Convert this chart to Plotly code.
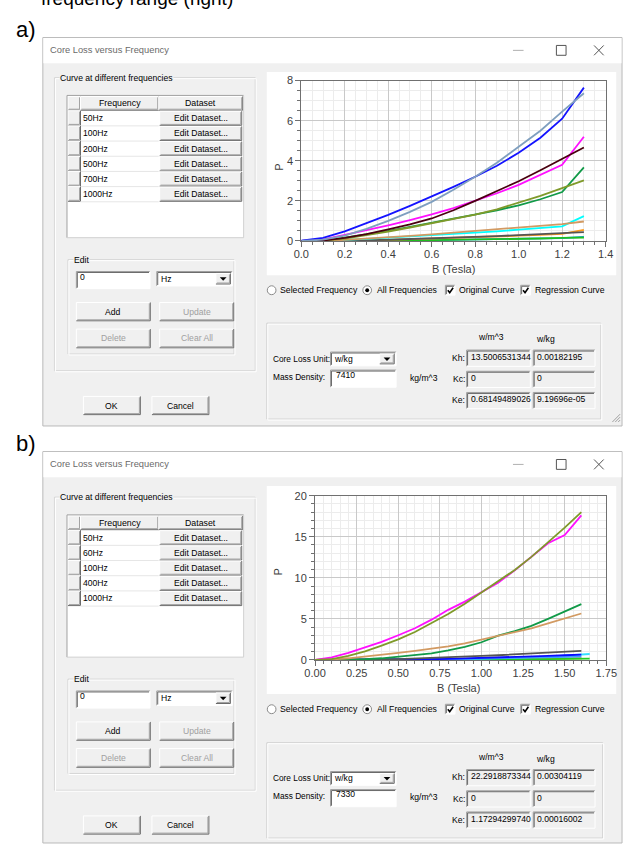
import plotly.graph_objects as go

W, H = 634, 848

# ------------------------------------------------------------------ data
# chart a) : B (Tesla) sample points and P curves (original + regression)
B_A = [0.0, 0.1, 0.2, 0.3, 0.4, 0.5, 0.6, 0.7, 0.8, 0.9, 1.0, 1.1, 1.2, 1.3]
A_1000_ORIG = [0.02, 0.15, 0.48, 0.88, 1.30, 1.75, 2.22, 2.70, 3.20, 3.75, 4.40, 5.15, 6.10, 7.65]
A_1000_REG = [0.0, 0.06, 0.27, 0.60, 1.00, 1.45, 1.95, 2.55, 3.20, 3.90, 4.70, 5.50, 6.45, 7.37]
A_700_ORIG = [0.0, 0.08, 0.30, 0.53, 0.78, 1.04, 1.32, 1.64, 2.00, 2.38, 2.80, 3.28, 3.80, 5.20]
A_700_REG = [0.0, 0.02, 0.15, 0.34, 0.58, 0.83, 1.12, 1.53, 2.00, 2.47, 2.98, 3.53, 4.10, 4.66]
A_500_ORIG = [0.0, 0.03, 0.16, 0.32, 0.50, 0.70, 0.90, 1.10, 1.30, 1.53, 1.78, 2.08, 2.44, 3.67]
A_500_REG = [0.0, 0.02, 0.12, 0.28, 0.47, 0.67, 0.88, 1.09, 1.31, 1.58, 1.90, 2.25, 2.64, 3.02]
A_200_ORIG = [0.0, 0.01, 0.05, 0.10, 0.16, 0.22, 0.29, 0.35, 0.41, 0.48, 0.56, 0.64, 0.73, 1.24]
A_200_REG = [0.0, 0.0, 0.05, 0.11, 0.18, 0.25, 0.33, 0.41, 0.49, 0.57, 0.65, 0.74, 0.84, 0.97]
A_100_ORIG = [0.0, 0.0, 0.01, 0.03, 0.05, 0.08, 0.11, 0.14, 0.18, 0.22, 0.26, 0.30, 0.35, 0.55]
A_100_REG = [0.0, 0.0, 0.01, 0.03, 0.06, 0.09, 0.12, 0.16, 0.20, 0.24, 0.29, 0.34, 0.39, 0.44]
A_50_ORIG = [0.0, 0.0, 0.0, 0.01, 0.02, 0.03, 0.04, 0.06, 0.07, 0.09, 0.10, 0.12, 0.14, 0.20]
A_50_REG = [0.0, 0.0, 0.0, 0.01, 0.02, 0.03, 0.04, 0.05, 0.07, 0.08, 0.10, 0.12, 0.15, 0.17]

# chart b)
B_B = [0.0, 0.1, 0.2, 0.3, 0.4, 0.5, 0.6, 0.7, 0.8, 0.9, 1.0, 1.1, 1.2, 1.3, 1.4, 1.5, 1.6]
B_B_EXT = [0.0, 0.1, 0.2, 0.3, 0.4, 0.5, 0.6, 0.7, 0.8, 0.9, 1.0, 1.1, 1.2, 1.3, 1.4, 1.5, 1.6, 1.65]
B_1000_ORIG = [0.0, 0.30, 0.85, 1.50, 2.20, 3.00, 3.85, 4.90, 6.10, 7.10, 8.20, 9.40, 10.90, 12.50, 14.20, 15.20, 17.60]
B_1000_REG = [0.0, 0.10, 0.50, 1.05, 1.75, 2.50, 3.40, 4.50, 5.60, 6.85, 8.20, 9.50, 10.95, 12.55, 14.30, 16.10, 18.00]
B_400_ORIG = [0.0, 0.0, 0.02, 0.08, 0.20, 0.38, 0.58, 0.80, 1.15, 1.60, 2.15, 2.95, 3.50, 4.15, 5.00, 5.90, 6.80]
B_400_REG = [0.0, 0.05, 0.20, 0.40, 0.62, 0.85, 1.10, 1.35, 1.65, 2.00, 2.45, 2.95, 3.35, 3.85, 4.45, 5.05, 5.65]
B_100_ORIG = [0.0, 0.0, 0.0, 0.01, 0.02, 0.03, 0.05, 0.08, 0.12, 0.17, 0.22, 0.28, 0.35, 0.42, 0.50, 0.57, 0.65]
B_100_REG = [0.0, 0.0, 0.0, 0.02, 0.06, 0.10, 0.16, 0.23, 0.30, 0.39, 0.48, 0.57, 0.66, 0.77, 0.88, 0.99, 1.10]
B_60_ORIG = [0.0, 0.0, 0.0, 0.0, 0.01, 0.02, 0.03, 0.05, 0.08, 0.11, 0.15, 0.20, 0.26, 0.33, 0.41, 0.50, 0.60, 0.72]
B_60_REG = [0.0, 0.0, 0.0, 0.01, 0.02, 0.03, 0.05, 0.07, 0.09, 0.12, 0.15, 0.19, 0.23, 0.27, 0.31, 0.36, 0.41]
B_50_ORIG = [0.0, 0.0, 0.0, 0.0, 0.01, 0.01, 0.02, 0.03, 0.04, 0.05, 0.07, 0.08, 0.10, 0.12, 0.14, 0.17, 0.20]
B_50_REG = [0.0, 0.0, 0.0, 0.0, 0.0, 0.01, 0.01, 0.02, 0.02, 0.03, 0.04, 0.05, 0.06, 0.08, 0.10, 0.12, 0.14, 0.16]

FREQS_A = ["50Hz", "100Hz", "200Hz", "500Hz", "700Hz", "1000Hz"]
FREQS_B = ["50Hz", "60Hz", "100Hz", "400Hz", "1000Hz"]
KH_A = ["13.5006531344", "0.00182195"]
KC_A = ["0", "0"]
KE_A = ["0.68149489026", "9.19696e-05"]
DENSITY_A = "7410"
KH_B = ["22.2918873344", "0.00304119"]
KC_B = ["0", "0"]
KE_B = ["1.17294299740", "0.00016002"]
DENSITY_B = "7330"

X_TICKS_A = dict(range=[0, 1.4], dtick=0.2, minor=0.05, fmt=".1f")
Y_TICKS_A = dict(range=[0, 8], dtick=2, minor=0.5)
X_TICKS_B = dict(range=[0, 1.75], dtick=0.25, minor=0.05, fmt=".2f")
Y_TICKS_B = dict(range=[0, 20], dtick=5, minor=1)

# ------------------------------------------------------------------ helpers
UI = "Liberation Sans, Arial, sans-serif"
FACE = "#f0f0f0"
shapes, annos = [], []


def px(x):
    return x / W


def py(y):
    return 1 - y / H


def rect(x0, y0, x1, y1, fill=None, line=None, lw=1):
    shapes.append(dict(type="rect", xref="paper", yref="paper", layer="below",
                       x0=px(x0), x1=px(x1), y0=py(y0), y1=py(y1),
                       fillcolor=fill if fill else "rgba(0,0,0,0)",
                       line=dict(color=line if line else "rgba(0,0,0,0)", width=lw if line else 0)))


def seg(x0, y0, x1, y1, color, lw=1, layer="below"):
    shapes.append(dict(type="line", xref="paper", yref="paper", layer=layer,
                       x0=px(x0), x1=px(x1), y0=py(y0), y1=py(y1),
                       line=dict(color=color, width=lw)))


def text(x, y, s, size=8.6, color="#000000", xa="left", bg=None, family=UI, ya="middle"):
    d = dict(x=px(x), y=py(y), xref="paper", yref="paper", text=s, showarrow=False,
             xanchor=xa, yanchor=ya, font=dict(family=family, size=size, color=color),
             borderpad=0)
    if bg:
        d["bgcolor"] = bg
    annos.append(d)


def raised(x0, y0, x1, y1, label=None, color="#000000", size=8.6):
    rect(x0, y0, x1, y1, fill=FACE)
    seg(x0, y0, x1, y0, "#ffffff")
    seg(x0, y0, x0, y1, "#ffffff")
    seg(x0, y1, x1, y1, "#6a6a6a")
    seg(x1, y0, x1, y1, "#6a6a6a")
    seg(x0 + 1, y1 - 1, x1 - 1, y1 - 1, "#a0a0a0")
    seg(x1 - 1, y0 + 1, x1 - 1, y1 - 1, "#a0a0a0")
    if label:
        text((x0 + x1) / 2, (y0 + y1) / 2, label, size=size, color=color, xa="center")


def sunken(x0, y0, x1, y1, fill="#ffffff"):
    rect(x0, y0, x1, y1, fill=fill)
    seg(x0, y0, x1, y0, "#a0a0a0")
    seg(x0, y0, x0, y1, "#a0a0a0")
    seg(x0 + 1, y0 + 1, x1 - 1, y0 + 1, "#696969")
    seg(x0 + 1, y0 + 1, x0 + 1, y1 - 1, "#696969")
    seg(x0, y1, x1, y1, "#ffffff")
    seg(x1, y0, x1, y1, "#ffffff")


def combo(x0, y0, x1, y1, value):
    sunken(x0, y0, x1, y1)
    text(x0 + 3, (y0 + y1) / 2, value)
    raised(x1 - 17, y0 + 2, x1 - 2, y1 - 2)
    cx, cy = x1 - 9.5, (y0 + y1) / 2
    shapes.append(dict(type="path", xref="paper", yref="paper", layer="below",
                       path=f"M {px(cx-3.5)},{py(cy-1.5)} L {px(cx+3.5)},{py(cy-1.5)} L {px(cx)},{py(cy+2)} Z",
                       fillcolor="#000000", line=dict(width=0)))


def groupbox(x0, y0, x1, y1, label):
    rect(x0, y0, x1, y1, line="#d5d5d5")
    rect(x0 + 1, y0 + 1, x1 + 1, y1 + 1, line="#ffffff")
    text(x0 + 5, y0, label, bg=FACE)


def radio(cx, cy, filled):
    shapes.append(dict(type="circle", xref="paper", yref="paper", layer="below",
                       x0=px(cx - 4.5), x1=px(cx + 4.5), y0=py(cy + 4.5), y1=py(cy - 4.5),
                       fillcolor="#ffffff", line=dict(color="#8a8a8a", width=1)))
    if filled:
        shapes.append(dict(type="circle", xref="paper", yref="paper", layer="below",
                           x0=px(cx - 2), x1=px(cx + 2), y0=py(cy + 2), y1=py(cy - 2),
                           fillcolor="#000000", line=dict(width=0)))


def checkbox(x0, cy):
    sunken(x0, cy - 5, x0 + 10, cy + 5)
    shapes.append(dict(type="path", xref="paper", yref="paper", layer="below",
                       path=f"M {px(x0+2.5)},{py(cy)} L {px(x0+4.5)},{py(cy+2.5)} L {px(x0+8)},{py(cy-2.5)}",
                       line=dict(color="#000000", width=1.6)))


def window(top, bottom, title_y):
    rect(33, top, 633, bottom, fill=FACE, line="#b9b9b9")
    rect(33.5, top + 0.5, 632.5, top + 26, fill="#ffffff")
    text(39, title_y, "Core Loss versus Frequency", size=9.3, color="#6a6a6a")
    seg(520, title_y, 531, title_y, "#b0b0b0")
    rect(565, title_y - 5, 575, title_y + 5, line="#555555")
    seg(604, title_y - 5, 614, title_y + 5, "#555555")
    seg(604, title_y + 5, 614, title_y - 5, "#555555")


def dialog(oy, freqs, coeffs, density, chart_box, lower_box, lower_oy):
    # left group
    groupbox(45, 72.7 + oy, 253, 370 + oy, "Curve at different frequencies")
    tx0, tx1, ty0, ty1 = 58, 241, 90.7 + oy, 235 + oy
    rect(tx0, ty0, tx1, ty1, fill="#ffffff")
    # header
    raised(tx0 + 1, ty0 + 1, 72, ty0 + 15)
    raised(72, ty0 + 1, 153, ty0 + 15, "Frequency", size=8.8)
    raised(153, ty0 + 1, tx1 - 1, ty0 + 15, "Dataset", size=8.8)
    rh = 15.4
    for i, f in enumerate(freqs):
        r0 = ty0 + 15.5 + i * rh
        r1 = r0 + rh
        raised(tx0 + 1, r0, 72, r1 - 0.5)
        seg(72, r1, 153, r1, "#e6e6e6")
        text(73.5, (r0 + r1) / 2, f)
        raised(154, r0 + 0.5, 239, r1 - 0.5, "Edit Dataset...")
    seg(tx0, ty0, tx1, ty0, "#a0a0a0")
    seg(tx0, ty0, tx0, ty1, "#a0a0a0")
    seg(tx0, ty1, tx1, ty1, "#d0d0d0")
    seg(tx1, ty0, tx1, ty1, "#d0d0d0")
    # edit group
    groupbox(59, 257.3 + oy, 231, 353 + oy, "Edit")
    sunken(67.7, 269.3 + oy, 144, 286.7 + oy)
    text(70, 274.5 + oy, "0")
    combo(151, 269.3 + oy, 229.3, 284 + oy, "Hz")
    raised(67.7, 300.7 + oy, 144.3, 319.3 + oy, "Add")
    raised(154, 300.7 + oy, 230.7, 319.3 + oy, "Update", color="#a0a0a0")
    raised(67.7, 327.7 + oy, 144.3, 346.7 + oy, "Delete", color="#a0a0a0")
    raised(154, 327.7 + oy, 230.7, 346.7 + oy, "Clear All", color="#a0a0a0")
    raised(75, 396 + oy, 134, 414.5 + oy, "OK")
    raised(146, 396 + oy, 205, 414.5 + oy, "Cancel")
    # chart panel
    cx0, cy0, cx1, cy1 = chart_box
    rect(cx0, cy0, cx1, cy1, fill="#ffffff")
    # radio row
    ry = cy1 + 15.3
    radio(270, ry, False)
    text(278, ry, "Selected Frequency", size=8.7)
    radio(369, ry, True)
    text(378, ry, "All Frequencies", size=8.7)
    checkbox(450, ry)
    text(463, ry, "Original Curve", size=8.7)
    checkbox(528, ry)
    text(542, ry, "Regression Curve", size=8.7)
    # lower box
    lx0, ly0, lx1, ly1 = lower_box
    rect(lx0, ly0, lx1, ly1, line="#d0d0d0")
    rect(lx0 + 1, ly0 + 1, lx1 + 1, ly1 + 1, line="#ffffff")
    o = lower_oy
    text(270, 358 + o, "Core Loss Unit:", size=8.3)
    combo(331, 351 + o, 399, 365 + o, "w/kg")
    text(270, 376 + o, "Mass Density:", size=8.3)
    sunken(331, 369.3 + o, 399, 386.7 + o)
    text(336, 374 + o, density)
    text(412, 377 + o, "kg/m^3")
    text(497, 336 + o, "w/m^3", xa="center")
    text(554, 338 + o, "w/kg", xa="center")
    rows = [("Kh:", coeffs[0], 357), ("Kc:", coeffs[1], 378.5), ("Ke:", coeffs[2], 400)]
    for lab, vals, yy in rows:
        text(471, yy + o, lab, xa="right")
        sunken(472, yy - 8 + o, 538, yy + 8.5 + o, fill=FACE)
        sunken(541, yy - 8 + o, 605, yy + 8.5 + o, fill=FACE)
        text(475, yy - 1 + o, vals[0])
        text(544, yy - 1 + o, vals[1])


# ------------------------------------------------------------------ UI drawing
text(30, 4, "frequency range (right)", size=19, family="Arial", ya="bottom")
text(4, 24, "a)", size=22, family="Arial")
text(4, 444, "b)", size=22, family="Arial")

window(32, 426, 45)
dialog(0, FREQS_A, (KH_A, KC_A, KE_A), DENSITY_A, (265, 67, 627, 273), (265, 321.7, 611, 419), 0)
seg(623, 422, 631, 414, "#a0a0a0")
seg(626, 422, 631, 417, "#a0a0a0")
seg(629, 422, 631, 420, "#a0a0a0")

window(452, 849, 465)
dialog(425.5, FREQS_B, (KH_B, KC_B, KE_B), DENSITY_B, (265, 487, 627, 698), (265, 747.3, 613, 844), 425.5)

# ------------------------------------------------------------------ charts
fig = go.Figure()

SER_A = [
    (A_50_ORIG, "#0a9bff"), (A_50_REG, "#1fbf1f"),
    (A_100_ORIG, "#ff9a1a"), (A_100_REG, "#555555"),
    (A_200_ORIG, "#00ffff"), (A_200_REG, "#d29a62"),
    (A_500_ORIG, "#119a48"), (A_500_REG, "#7f9a2a"),
    (A_700_ORIG, "#ff10ff"), (A_700_REG, "#4a0010"),
    (A_1000_ORIG, "#1414ff"), (A_1000_REG, "#7f9fbf"),
]
for yv, c in SER_A:
    fig.add_trace(go.Scatter(x=B_A, y=yv, mode="lines", line=dict(color=c, width=1.8),
                             xaxis="x", yaxis="y", hoverinfo="skip", showlegend=False))

SER_B = [
    (B_B, B_50_ORIG, "#ff8c00"), (B_B_EXT, B_50_REG, "#22cc22"),
    (B_B_EXT, B_60_ORIG, "#33e0ff"), (B_B, B_60_REG, "#3ca0ff"),
    (B_B, B_100_ORIG, "#0a0aff"), (B_B, B_100_REG, "#555555"),
    (B_B, B_400_ORIG, "#119a48"), (B_B, B_400_REG, "#d29a62"),
    (B_B, B_1000_ORIG, "#ff10ff"), (B_B, B_1000_REG, "#7f9a2a"),
]
for xv, yv, c in SER_B:
    fig.add_trace(go.Scatter(x=xv, y=yv, mode="lines", line=dict(color=c, width=1.8),
                             xaxis="x2", yaxis="y2", hoverinfo="skip", showlegend=False))


def xax(dom, t, anchor):
    return dict(domain=dom, range=t["range"], dtick=t["dtick"], tick0=0, tickformat=t["fmt"],
                showgrid=True, gridcolor="#c9c9c9", gridwidth=1, zeroline=False,
                showline=True, linecolor="#707070", mirror=True, ticks="outside", ticklen=5,
                tickcolor="#707070", tickfont=dict(family="Arial", size=11, color="#404040"),
                ticklabelstandoff=-2,
                minor=dict(dtick=t["minor"], tick0=0, showgrid=True, gridcolor="#ececec",
                           ticks="outside", ticklen=3, tickcolor="#707070"),
                anchor=anchor, fixedrange=True)


def yax(dom, t, anchor):
    return dict(domain=dom, range=t["range"], dtick=t["dtick"], tick0=0,
                showgrid=True, gridcolor="#c9c9c9", gridwidth=1, zeroline=False,
                showline=True, linecolor="#707070", mirror=True, ticks="outside", ticklen=5,
                tickcolor="#707070", tickfont=dict(family="Arial", size=11, color="#404040"),
                minor=dict(dtick=t["minor"], tick0=0, showgrid=True, gridcolor="#ececec",
                           ticks="outside", ticklen=3, tickcolor="#707070"),
                anchor=anchor, fixedrange=True)


# axis titles
text(458, 266.7, "B (Tesla)", size=11, family="Arial", color="#404040", xa="center")
text(463.5, 691.7, "B (Tesla)", size=11, family="Arial", color="#404040", xa="center")
annos.append(dict(x=px(276.7), y=py(158.3), xref="paper", yref="paper", text="P", showarrow=False,
                  textangle=-90, font=dict(family="Arial", size=11, color="#404040")))
annos.append(dict(x=px(276.7), y=py(580), xref="paper", yref="paper", text="P", showarrow=False,
                  textangle=-90, font=dict(family="Arial", size=11, color="#404040")))

fig.update_layout(
    width=W, height=H, margin=dict(l=0, r=0, t=0, b=0),
    paper_bgcolor="#ffffff", plot_bgcolor="#ffffff",
    xaxis=xax([px(300.7), px(616)], X_TICKS_A, "y"),
    yaxis=yax([py(238.3), py(75.7)], Y_TICKS_A, "x"),
    xaxis2=xax([px(315), px(616.7)], X_TICKS_B, "y2"),
    yaxis2=yax([py(663.3), py(496.7)], Y_TICKS_B, "x2"),
    shapes=shapes, annotations=annos, showlegend=False,
)

fig.write_html("out.html")
